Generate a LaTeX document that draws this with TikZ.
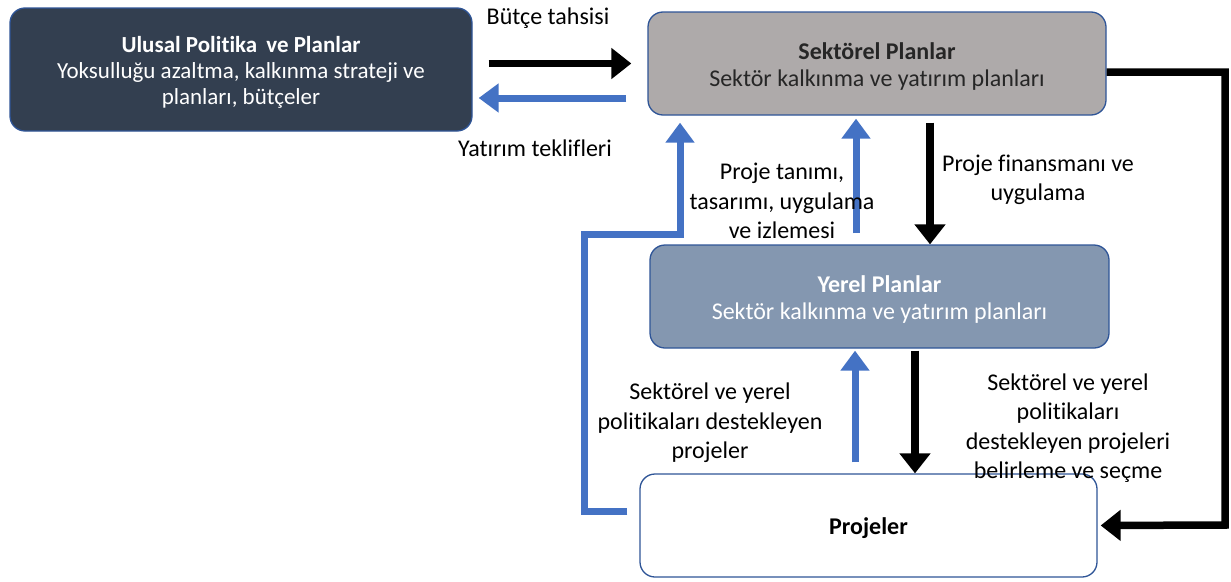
\documentclass[tikz,border=0pt]{standalone}
\usepackage{fontspec}
\setmainfont{Carlito}[Ligatures=NoCommon]
\usetikzlibrary{arrows.meta}
\definecolor{navy}{HTML}{333F50}
\definecolor{greybox}{HTML}{AEAAAA}
\definecolor{bluebox}{HTML}{8497B0}
\definecolor{edge}{HTML}{2F5597}
\definecolor{arrblue}{HTML}{4472C4}
\tikzset{
  box/.style={draw=edge, line width=1.3pt, rounded corners=15pt, align=center, inner sep=0pt,
    font=\fontsize{24}{27.5}\selectfont},
  lbl/.style={align=center, inner sep=0pt, font=\fontsize{24}{29.5}\selectfont},
  blkarrow/.style={line width=7.5pt, draw=black, -{Triangle[length=20pt,width=30pt]}},
  bluarrow/.style={line width=7pt, draw=arrblue, -{Triangle[length=20pt,width=28pt]}},
}
\newcommand{\lowstrut}{\rule{0pt}{23pt}}
\begin{document}
\begin{tikzpicture}[x=1pt,y=-1pt]
\useasboundingbox (0,0) rectangle (1231,581);
\node[box, fill=navy, text=white, minimum width=462pt, minimum height=123pt,
  font=\fontsize{23}{26}\selectfont] (ul) at (241,69.5)
  {\rule{0pt}{21pt}\textbf{Ulusal Politika\, ve Planlar}\\Yoksulluğu azaltma, kalkınma strateji ve\\planları, bütçeler};
\node[box, fill=greybox, text=black!85, minimum width=458pt, minimum height=103pt] (sek) at (877,63.5)
  {\lowstrut\textbf{Sektörel Planlar}\\Sektör kalkınma ve yatırım planları};
\node[box, fill=bluebox, text=white, minimum width=459pt, minimum height=103pt] (yer) at (879.5,296.5)
  {\lowstrut\textbf{Yerel Planlar}\\Sektör kalkınma ve yatırım planları};
\node[box, fill=white, text=black, minimum width=457pt, minimum height=103pt] (pro) at (868.5,525.5)
  {\lowstrut\textbf{Projeler}};

\draw[blkarrow, shorten <=16pt, shorten >=16pt] (ul.east |- sek.west) -- (sek.west);
\draw[bluarrow, shorten <=21pt, shorten >=6pt] (sek.west |- 0,98) -- (ul.east |- 0,98);
\draw[bluarrow, shorten <=12pt, shorten >=7pt, line join=miter] (pro.west |- 0,511) -| (584,234) -| (sek.south -| 680,0);
\draw[bluarrow, shorten <=11pt, shorten >=3pt] (yer.north -| 856,0) -- (sek.south -| 856,0);
\draw[blkarrow, shorten <=7pt] (sek.south -| 930,0) -- (yer.north -| 930,0);
\draw[bluarrow, shorten <=11pt, shorten >=2pt] (pro.north -| 855,0) -- (yer.south -| 855,0);
\draw[blkarrow, shorten <=2pt] (yer.south -| 915,0) -- (pro.north -| 915,0);
\draw[blkarrow, shorten >=3pt, line join=miter] (sek.east |- 0,72) -| (1225,525) -- (pro.east);

\node[lbl] (l1) at (548,18) {Bütçe tahsisi};
\node[lbl] (l2) at (535,148) {Yatırım teklifleri};
\node[lbl] (l3) at (782,201) {Proje tanımı,\\tasarımı, uygulama\\ve izlemesi};
\node[lbl] (l4) at (1038,180) {Proje finansmanı ve\\uygulama};
\node[lbl] (l5) at (710,423) {Sektörel ve yerel\\politikaları destekleyen\\projeler};
\node[lbl] (l6) at (1068,428) {Sektörel ve yerel\\politikaları\\destekleyen projeleri\\belirleme ve seçme};
\end{tikzpicture}
\end{document}
